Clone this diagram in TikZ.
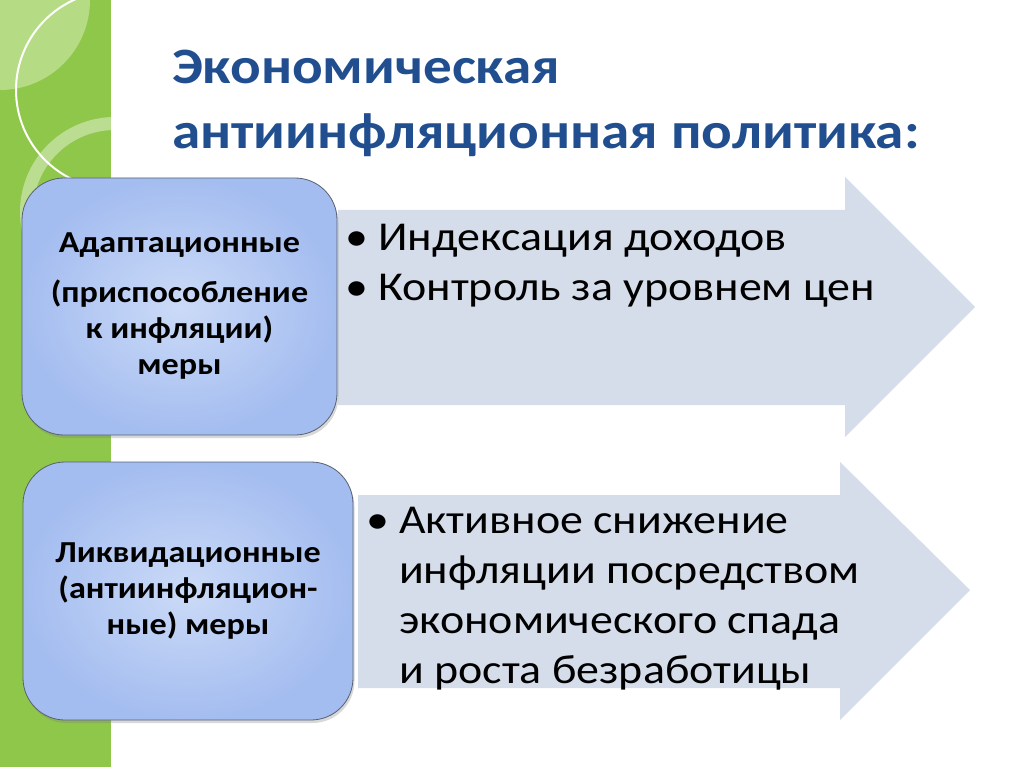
\documentclass[tikz,border=0pt]{standalone}
\usepackage{fontspec}
\setmainfont{Carlito}[FakeStretch=1.12]
\usepackage{tikz}
\usetikzlibrary{shadows, positioning}
\definecolor{stripegreen}{RGB}{143,199,74}
\definecolor{stripelight}{RGB}{181,220,132}
\definecolor{titleblue}{RGB}{33,78,143}
\definecolor{arrowgray}{RGB}{214,221,234}
\definecolor{boxin}{RGB}{203,218,247}
\definecolor{boxout}{RGB}{164,189,240}
\definecolor{boxline}{RGB}{88,96,112}
\tikzstyle{measure} = [rectangle, rounded corners=42pt, draw=boxline, line width=0.8pt, inner color=boxin, outer color=boxout, drop shadow={shadow xshift=1.5pt, shadow yshift=-3pt, opacity=0.3}, align=center, font=\fontsize{30.5}{36}\bfseries\selectfont]
\tikzstyle{bigarrow} = [fill=arrowgray]
\tikzstyle{points} = [anchor=base west, inner sep=0pt, font=\fontsize{41}{50}\selectfont]

\begin{document}
\begin{tikzpicture}[x=1pt, y=-1pt]
      \useasboundingbox (0,0) rectangle (1024,767);
      \fill[white] (0,0) rectangle (1024,767);

      % green stripe on the left
      \fill[stripegreen] (0,0) rectangle (111,767);
      \begin{scope}
        \clip (0,0) rectangle (111,767);
        \fill[stripelight] (0,0) circle (90);
        \fill[white, opacity=0.4, even odd rule] (115,212) circle (95) (115,212) circle (82);
        \draw[white, line width=2pt] (115,90) circle (99);
      \end{scope}

      % title
      \node (title) [anchor=base west, inner sep=0pt, text=titleblue, font=\fontsize{51}{65}\bfseries\selectfont] at (172,84)
        {\begin{tabular}[t]{@{}l@{}}Экономическая\\антиинфляционная политика:\end{tabular}};

      % arrows
      \fill[bigarrow] (338,210) -- (845,210) -- (845,177) -- (975,307) -- (845,437) -- (845,405) -- (338,405) -- cycle;
      \fill[bigarrow] (358,495) -- (840,495) -- (840,462) -- (970,590) -- (840,720) -- (840,688) -- (358,688) -- cycle;

      % boxes
      \node (adapt) [measure, minimum width=315pt, minimum height=257pt] at (179.5,306.5)
        {Адаптационные\\[14pt](приспособление\\к инфляции)\\меры};
      \node (liquid) [measure, minimum width=330pt, minimum height=258pt] at (188,591)
        {Ликвидационные\\(антиинфляцион-\\ные) меры};

      % items
      \node (adaptlist) [points] at (345,250)
        {\begin{tabular}[t]{@{}l@{\hspace{10pt}}l@{}}•&Индексация доходов\\•&Контроль за уровнем цен\end{tabular}};
      \node (liquidlist) [points] at (366,533)
        {\begin{tabular}[t]{@{}l@{\hspace{10pt}}l@{}}•&Активное снижение\\&инфляции посредством\\&экономического спада\\&и роста безработицы\end{tabular}};
\end{tikzpicture}
\end{document}
